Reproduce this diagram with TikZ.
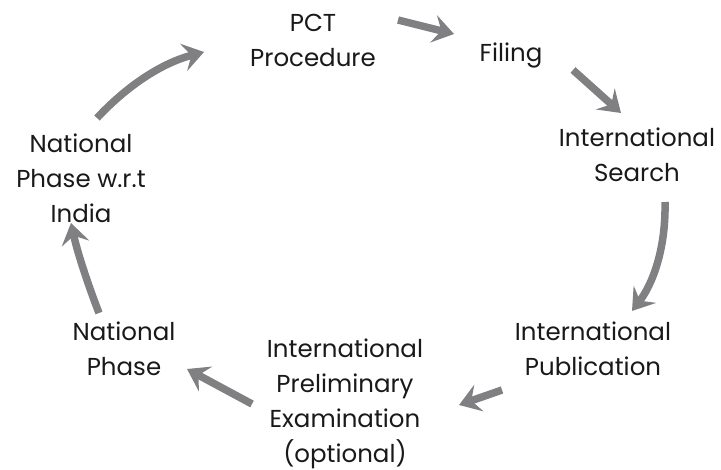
\documentclass[tikz,border=0pt]{standalone}
\usepackage{fontspec}
\setmainfont{Poppins}
\usetikzlibrary{arrows.meta}
\definecolor{arrgray}{RGB}{128,128,131}
\definecolor{txt}{RGB}{25,25,25}
\tikzset{
  lbl/.style={align=center, text=txt, font=\fontsize{24.5}{35}\selectfont, inner sep=0pt},
  flow/.style={draw=arrgray, line width=7.5pt, -{Stealth[length=21pt, width=28pt, inset=8pt]}}
}
\begin{document}
\begin{tikzpicture}[x=1pt,y=-1pt]
\useasboundingbox (0,0) rectangle (721,470);
\node[lbl] (pct) at (313,40) {PCT\\Procedure};
\node[lbl] (fil) at (511,55) {Filing};
\node[lbl] (sea) at (637,155) {International\\Search};
\node[lbl] (pub) at (593,349) {International\\Publication};
\node[lbl] (exa) at (345,404) {International\\Preliminary\\Examination\\(optional)};
\node[lbl] (nph) at (124,349) {National\\Phase};
\node[lbl] (ind) at (81,178) {National\\Phase w.r.t\\India};
\coordinate (a1s) at (398,20); \coordinate (a1e) at (454,34);
\coordinate (a2s) at (573,70); \coordinate (a2e) at (621,113);
\coordinate (a3s) at (665,202); \coordinate (a3e) at (632,311);
\coordinate (a4s) at (502,390); \coordinate (a4e) at (459,405);
\coordinate (a5s) at (252,404); \coordinate (a5e) at (187,369);
\coordinate (a6s) at (99,313); \coordinate (a6e) at (71,223);
\coordinate (a7s) at (97,118); \coordinate (a7e) at (204,52);
\draw[flow] (a1s) -- (a1e);
\draw[flow] (a2s) -- (a2e);
\draw[flow] (a3s) .. controls (666,250) and (652,285) .. (a3e);
\draw[flow] (a4s) -- (a4e);
\draw[flow] (a5s) -- (a5e);
\draw[flow] (a6s) .. controls (90,290) and (78,255) .. (a6e);
\draw[flow] (a7s) .. controls (128,85) and (162,63) .. (a7e);
\end{tikzpicture}
\end{document}
